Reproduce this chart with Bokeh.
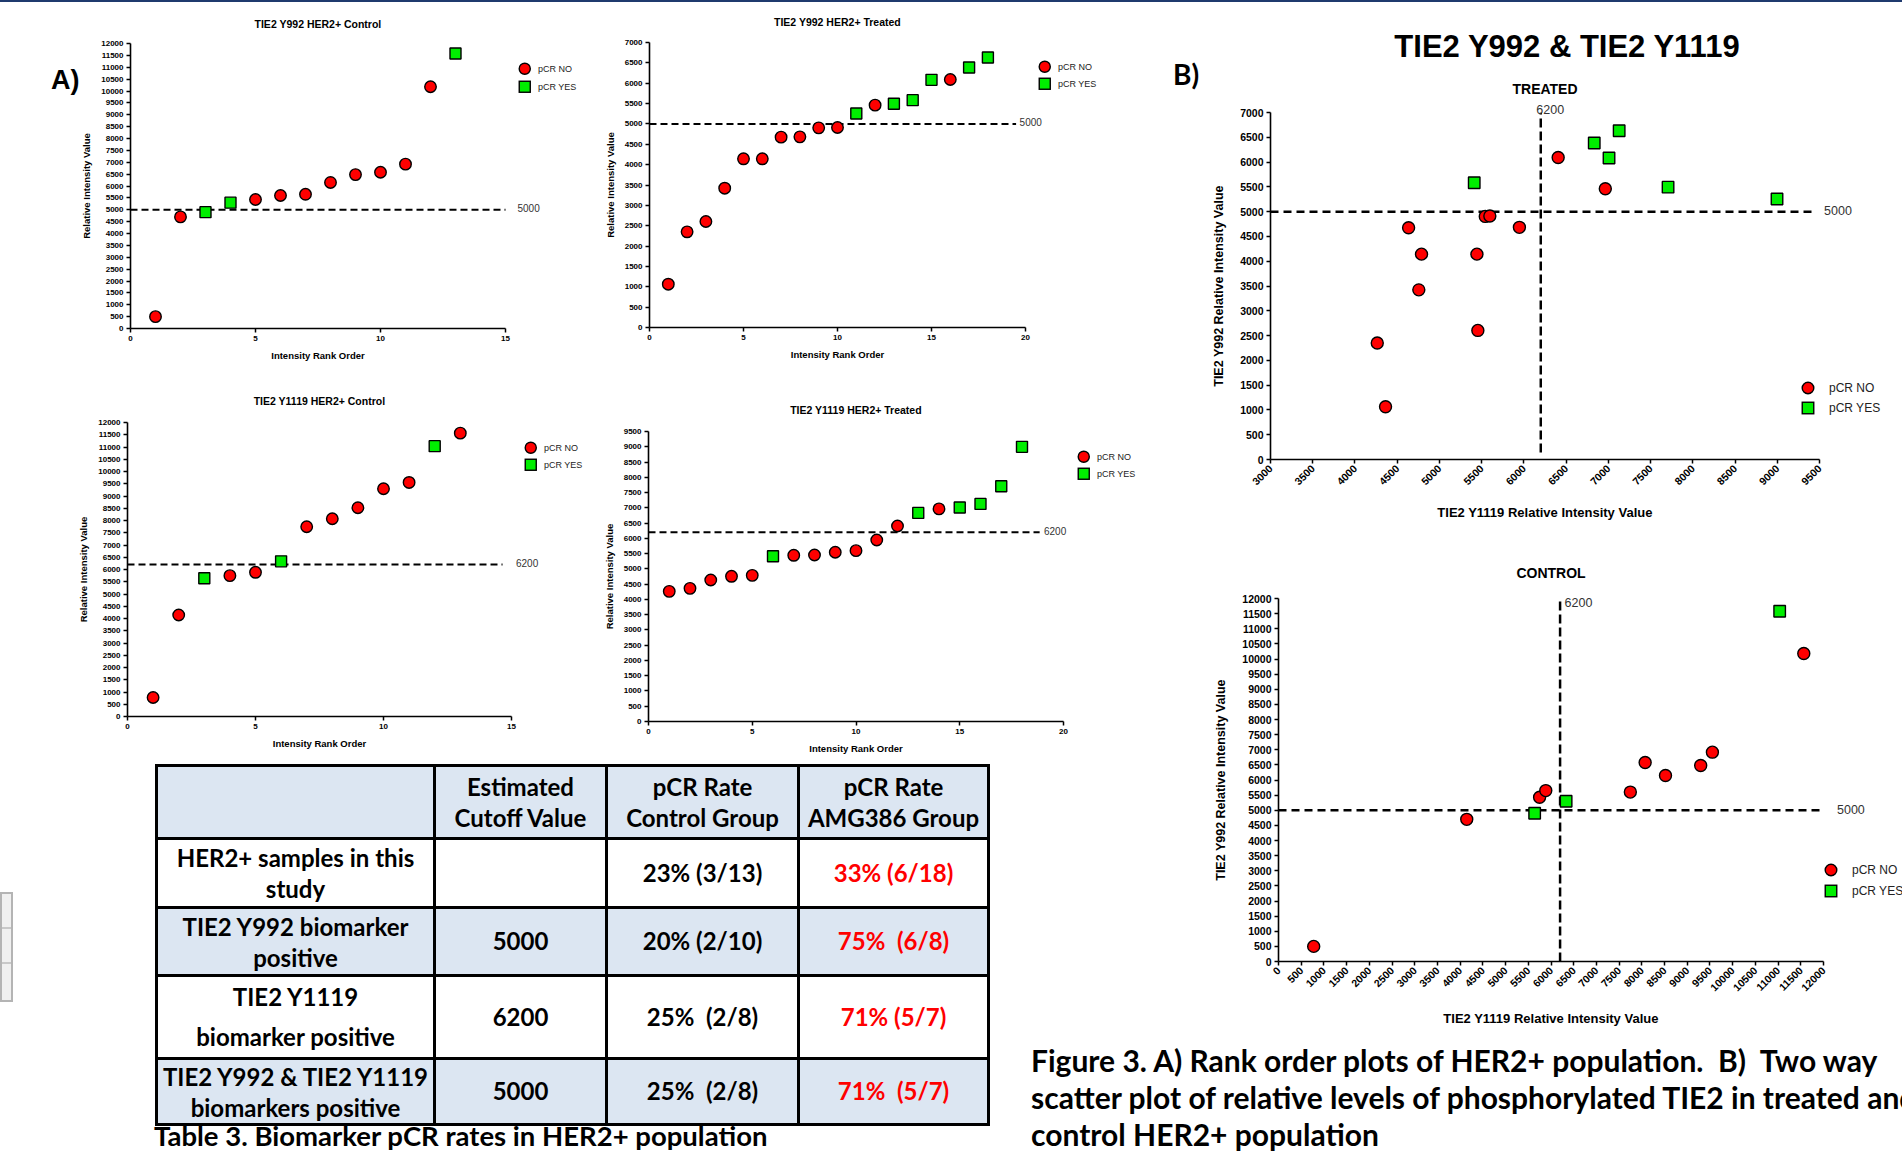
import math
from bokeh.plotting import figure
from bokeh.models import (ColumnDataSource, Range1d, SingleIntervalTicker,
                          NumeralTickFormatter, Div)
from bokeh.layouts import row, column
from bokeh.embed import file_html
from bokeh.resources import INLINE

# ---------------- data ----------------
# per-patient values (TIE2 Y1119, TIE2 Y992) and pCR outcome
control_y1119 = [775, 4145, 5640, 5749, 5885, 6333, 7747, 8073, 8521, 9296, 9554, 11035, 11566]
control_y992 = [500, 4700, 4900, 5430, 5650, 5300, 5600, 6580, 6150, 6480, 6920, 11580, 10180]
control_pcr = ["NO", "NO", "YES", "NO", "NO", "YES", "NO", "NO", "NO", "NO", "NO", "YES", "NO"]

treated_y1119 = [4264, 4362, 4635, 4756, 4788, 5412, 5444, 5455, 5543, 5597, 5947, 6406,
                 6833, 6964, 7008, 7128, 7707, 8997]
treated_y992 = [2350, 1064, 4675, 3422, 4143, 5584, 4143, 2604, 4904, 4912, 4683, 6092,
                6386, 5461, 6083, 6632, 5494, 5256]
treated_pcr = ["NO", "NO", "NO", "NO", "NO", "YES", "NO", "NO", "NO", "NO", "NO", "NO",
               "YES", "NO", "YES", "YES", "YES", "YES"]

cutoff_y992 = 5000
cutoff_y1119 = 6200
legend_labels = ["pCR NO", "pCR YES"]

rank_titles = ["TIE2 Y992 HER2+ Control", "TIE2 Y992 HER2+ Treated",
               "TIE2 Y1119 HER2+ Control", "TIE2 Y1119 HER2+ Treated"]
scatter_titles = ["TREATED", "CONTROL"]
main_title = "TIE2 Y992 & TIE2 Y1119"
panel_labels = ["A)", "B)"]

table_columns = ["", "Estimated\nCutoff Value", "pCR Rate\nControl Group", "pCR Rate\nAMG386 Group"]
table_groups = ["HER2+ samples in this\nstudy", "TIE2 Y992 biomarker\npositive",
                "TIE2 Y1119\nbiomarker positive", "TIE2 Y992 & TIE2 Y1119\nbiomarkers positive"]
table_cutoffs = ["", "5000", "6200", "5000"]
table_control = ["23% (3/13)", "20% (2/10)", "25%  (2/8)", "25%  (2/8)"]
table_amg386 = ["33% (6/18)", "75%  (6/8)", "71% (5/7)", "71%  (5/7)"]
table_caption = "Table 3. Biomarker pCR rates in HER2+ population"
figure_caption = ["Figure 3. A) Rank order plots of HER2+ population.  B)  Two way",
                  "scatter plot of relative levels of phosphorylated TIE2 in treated and",
                  "control HER2+ population"]

# ---------------- style ----------------
RED = "#FF0000"
GREEN = "#00EE00"
FONT = "Liberation Sans"
CAPFONT = "Lato"
LIGHTBLUE = "#DCE6F2"
NAVY = "#1F3A6E"


def esc(t):
    return t.replace("&", "&amp;").replace("  ", "&nbsp; ").replace("\n", "<br>")


class Geo:
    """canvas origin on the page, canvas size, min borders and data ranges"""
    def __init__(self, ox, oy, w, h, borders, xr, yr):
        self.ox, self.oy, self.w, self.h = ox, oy, w, h
        self.l, self.t, self.r, self.b = borders
        self.xr, self.yr = xr, yr
        self.fl, self.ft = ox + self.l, oy + self.t
        self.fw, self.fh = w - self.l - self.r, h - self.t - self.b
        self.fr = self.fl + self.fw

    def px(self, x):
        return self.fl + (x - self.xr[0]) / (self.xr[1] - self.xr[0]) * self.fw

    def py(self, y):
        return self.ft + (self.yr[1] - y) / (self.yr[1] - self.yr[0]) * self.fh


def new_fig(g):
    p = figure(width=g.w, height=g.h, x_range=Range1d(*g.xr), y_range=Range1d(*g.yr),
               output_backend="svg", toolbar_location=None,
               min_border_left=g.l, min_border_top=g.t, min_border_right=g.r, min_border_bottom=g.b)
    p.xgrid.grid_line_color = None
    p.ygrid.grid_line_color = None
    p.outline_line_color = None
    return p


def style_axis(ax, tick_px, label_px, label_standoff, interval, label):
    ax.ticker = SingleIntervalTicker(interval=interval, num_minor_ticks=0)
    ax.formatter = NumeralTickFormatter(format="0")
    ax.axis_line_width = 1.6
    ax.axis_line_color = "black"
    ax.major_tick_line_width = 1.5
    ax.major_tick_line_color = "black"
    ax.major_tick_out = 4
    ax.major_tick_in = 0
    ax.minor_tick_line_color = None
    ax.major_label_text_font = FONT
    ax.major_label_text_font_style = "bold"
    ax.major_label_text_font_size = f"{tick_px}px"
    ax.major_label_text_color = "black"
    ax.major_label_standoff = 3
    ax.axis_label = label
    ax.axis_label_text_font = FONT
    ax.axis_label_text_font_style = "bold"
    ax.axis_label_text_font_size = f"{label_px}px"
    ax.axis_label_text_color = "black"
    ax.axis_label_standoff = label_standoff


def style_title(p, text, px, gap):
    """gap: distance from the title's vertical centre up from the frame top"""
    p.title.text = text
    p.title.align = "center"
    p.title.vertical_align = "top"
    p.title.text_font = FONT
    p.title.text_font_style = "bold"
    p.title.text_font_size = f"{px}px"
    p.title.text_color = "black"
    p.title.standoff = max(0, 2 * (gap - 2 - 0.56 * px))


def add_points(p, xs, ys, pcr, size):
    no = ColumnDataSource(dict(x=[x for x, s in zip(xs, pcr) if s == "NO"],
                               y=[y for y, s in zip(ys, pcr) if s == "NO"]))
    yes = ColumnDataSource(dict(x=[x for x, s in zip(xs, pcr) if s == "YES"],
                                y=[y for y, s in zip(ys, pcr) if s == "YES"]))
    p.scatter("x", "y", source=no, marker="circle", size=size, fill_color=RED,
              line_color="black", line_width=1.4)
    p.scatter("x", "y", source=yes, marker="square", size=size - 0.5, fill_color=GREEN,
              line_color="black", line_width=1.4)


overlays_left = []   # html placed over the left column (coordinates relative to its table div)
overlays_right = []  # html placed over the right column (relative to its caption div)
LEFT_DIV_ORIGIN = (0, 760)
RIGHT_DIV_ORIGIN = (1160, 1036)


def text_box(left, cy, text, px, weight=400, family=FONT, color="#333333", align="left", width=None):
    lh = round(px * 1.25)
    w = f" width:{width}px;" if width else ""
    return (f'<div style="position:absolute; left:{left:.1f}px; top:{cy - lh / 2:.1f}px;{w} '
            f'font-family:{family}; font-size:{px}px; font-weight:{weight}; line-height:{lh}px; '
            f'color:{color}; white-space:nowrap; text-align:{align};">{esc(text)}</div>')


def legend_html(origin, mx, my, gap, size, font_px, text_dx):
    ox, oy = origin
    out = []
    for k, lab in enumerate(legend_labels):
        cx, cy = mx - ox, my + k * gap - oy
        box = size + 4
        c = box / 2
        if k == 0:
            shape = (f'<circle cx="{c}" cy="{c}" r="{size / 2 - 0.2}" fill="{RED}" '
                     f'stroke="black" stroke-width="1.4"/>')
        else:
            s = size - 0.5
            shape = (f'<rect x="{c - s / 2}" y="{c - s / 2}" width="{s}" height="{s}" fill="{GREEN}" '
                     f'stroke="black" stroke-width="1.4"/>')
        out.append(f'<svg style="position:absolute; left:{cx - c:.1f}px; top:{cy - c:.1f}px;" '
                   f'width="{box}" height="{box}">{shape}</svg>')
        out.append(text_box(cx + text_dx, cy, lab, font_px, color="#222222"))
    return "".join(out)


def rank_plot(vals, pcr, title, g, title_gap, line_end, label_dx, leg):
    order = sorted(range(len(vals)), key=lambda i: vals[i])
    ranks = list(range(1, len(vals) + 1))
    ys = [vals[i] for i in order]
    ps = [pcr[i] for i in order]
    p = new_fig(g)
    style_title(p, title, 10.5, title_gap)
    style_axis(p.xaxis[0], 8, 9.5, 6, 5, "Intensity Rank Order")
    style_axis(p.yaxis[0], 8, 9.5, 6, 500, "Relative Intensity Value")
    cutoff = cutoff_y992 if "Y992" in title else cutoff_y1119
    p.segment(x0=[0], y0=[cutoff], x1=[line_end], y1=[cutoff], line_color="black",
              line_width=2, line_dash="7 4")
    add_points(p, ranks, ys, ps, 11.5)
    ox, oy = LEFT_DIV_ORIGIN
    overlays_left.append(text_box(g.px(line_end) + label_dx - ox, g.py(cutoff) - oy,
                                  str(cutoff), 10))
    dx, dy, gap = leg
    overlays_left.append(legend_html(LEFT_DIV_ORIGIN, g.fr + dx, g.ft + dy, gap, 11.5, 9, 13))
    return p


# ---------------- A) rank order plots ----------------
gA1 = Geo(0, 0, 600, 380, (130, 43, 95, 52), (0, 15), (0, 12000))
gA2 = Geo(600, 0, 560, 380, (49, 42, 135, 53), (0, 20), (0, 7000))
gA3 = Geo(0, 380, 600, 380, (127, 42, 89, 44), (0, 15), (0, 12000))
gA4 = Geo(600, 380, 560, 380, (46, 51, 97, 39), (0, 20), (0, 9500))

a1 = rank_plot(control_y992, control_pcr, rank_titles[0], gA1, 20, 15.1, 10, (20, 26, 18))
a2 = rank_plot(treated_y992, treated_pcr, rank_titles[1], gA2, 21, 19.5, 4, (20, 25, 17))
a3 = rank_plot(control_y1119, control_pcr, rank_titles[2], gA3, 22, 14.65, 14, (20, 26, 17))
a4 = rank_plot(treated_y1119, treated_pcr, rank_titles[3], gA4, 22, 18.85, 5, (21, 26, 17))
overlays_left.append(text_box(gA1.fl - 79 - LEFT_DIV_ORIGIN[0], gA1.ft + 37 - LEFT_DIV_ORIGIN[1],
                              panel_labels[0], 27, weight=700, color="black"))


# ---------------- B) two way scatter plots ----------------
def scatter_plot(xs, ys, pcr, title, g, title_gap, h_end, h_dx, v_start, v_dx, v_dy, leg):
    p = new_fig(g)
    style_title(p, title, 14, title_gap)
    style_axis(p.xaxis[0], 10.5, 13, 13, 500, "TIE2 Y1119 Relative Intensity Value")
    style_axis(p.yaxis[0], 10.5, 12.5, 11, 500, "TIE2 Y992 Relative Intensity Value")
    p.xaxis[0].major_label_orientation = math.pi / 4
    p.segment(x0=[g.xr[0]], y0=[cutoff_y992], x1=[h_end], y1=[cutoff_y992], line_color="black",
              line_width=2.5, line_dash="8 5")
    p.segment(x0=[cutoff_y1119], y0=[v_start], x1=[cutoff_y1119], y1=[g.yr[1]], line_color="black",
              line_width=2.5, line_dash="9 4")
    add_points(p, xs, ys, pcr, 12)
    ox, oy = RIGHT_DIV_ORIGIN
    overlays_right.append(text_box(g.px(h_end) + h_dx - ox, g.py(cutoff_y992) - oy,
                                   str(cutoff_y992), 12.5))
    overlays_right.append(text_box(g.px(cutoff_y1119) + v_dx - ox, g.py(g.yr[1]) + v_dy - oy,
                                   str(cutoff_y1119), 12.5))
    dx, dy, gap = leg
    overlays_right.append(legend_html(RIGHT_DIV_ORIGIN, g.fr + dx, g.ft + dy, gap, 12, 12, 21))
    return p


gBT = Geo(1160, 0, 742, 535, (110, 112, 83, 76), (3000, 9500), (0, 7000))
gBC = Geo(1160, 535, 742, 501, (118, 63, 79, 75), (0, 12000), (0, 12000))

bt = scatter_plot(treated_y1119, treated_y992, treated_pcr, scatter_titles[0], gBT, 24,
                  9430, 11, 140, -4, -2, (-11, 276, 20))
bc = scatter_plot(control_y1119, control_y992, control_pcr, scatter_titles[1], gBC, 26,
                  12154, 7, 0, 5, 5, (8, 272, 21))

rx, ry = RIGHT_DIV_ORIGIN
overlays_right.append(text_box(gBT.fl + 297 - 400 - rx, gBT.ft - 66 - ry, main_title, 31,
                               weight=700, color="black", align="center", width=800))
overlays_right.append(text_box(gBT.fl - 97 - rx, gBT.ft - 38 - ry, panel_labels[1], 28,
                               weight=700, family=CAPFONT, color="black"))

# ---------------- table and captions ----------------
row_heights = [73, 69, 68, 81, 66]
col_widths = [278, 172, 192, 190]
row_bgs = [LIGHTBLUE, "white", LIGHTBLUE, "white", LIGHTBLUE]

cell_css = "border:3px solid black; text-align:center; vertical-align:middle; padding:0;"
html_rows = []
hdr = "".join(f'<td style="{cell_css} line-height:31px;">{esc(c)}</td>' for c in table_columns)
html_rows.append(f'<tr style="height:{row_heights[0]}px; background:{row_bgs[0]};">{hdr}</tr>')
for i in range(len(table_groups)):
    lh = 40 if i == 2 else 31
    cells = (f'<td style="{cell_css} line-height:{lh}px;">{esc(table_groups[i])}</td>'
             f'<td style="{cell_css}">{esc(table_cutoffs[i])}</td>'
             f'<td style="{cell_css}">{esc(table_control[i])}</td>'
             f'<td style="{cell_css} color:{RED};">{esc(table_amg386[i])}</td>')
    html_rows.append(f'<tr style="height:{row_heights[i + 1]}px; background:{row_bgs[i + 1]};">{cells}</tr>')
cols = "".join(f'<col style="width:{w}px">' for w in col_widths)

LH = 391
table_html = (
    f'<div style="position:relative; width:1160px; height:{LH}px;">'
    f'<table style="position:absolute; left:155px; top:4px; width:{sum(col_widths)}px; '
    f'border-collapse:collapse; table-layout:fixed; font-family:{CAPFONT}; font-weight:700; '
    f'font-size:24px; color:black;">{cols}{"".join(html_rows)}</table>'
    f'<div style="position:absolute; left:154px; top:361px; font-family:{CAPFONT}; font-weight:700; '
    f'font-size:27.5px; line-height:30px; white-space:nowrap; color:black;">{esc(table_caption)}</div>'
    '<div style="position:absolute; left:0px; top:132px; width:13px; height:110px; '
    'border:2px solid #b4b4b4; background:#f0f0f0;">'
    '<div style="height:35px; border-bottom:2px solid #c8c8c8;"></div>'
    '<div style="height:35px; border-bottom:2px solid #c8c8c8;"></div></div>'
    f'<div style="position:absolute; left:0px; top:-760px; width:1160px; height:2px; background:{NAVY};"></div>'
    + "".join(overlays_left) +
    '</div>')
table_div = Div(text=table_html, width=1160, height=LH, margin=0, styles={"overflow": "visible"})

RH = 115
cap_html = (
    f'<div style="position:relative; width:742px; height:{RH}px;">'
    f'<div style="position:absolute; left:-129px; top:0px; width:871px; height:{RH}px; overflow:hidden;">'
    f'<div style="position:absolute; left:0px; top:6px; font-family:{CAPFONT}; font-weight:700; '
    f'font-size:30px; line-height:37px; white-space:nowrap; color:black;">'
    + "<br>".join(esc(t) for t in figure_caption) + '</div></div>'
    f'<div style="position:absolute; left:0px; top:-1036px; width:742px; height:2px; background:{NAVY};"></div>'
    + "".join(overlays_right) +
    '</div>')
cap_div = Div(text=cap_html, width=742, height=RH, margin=0, styles={"overflow": "visible"})

# each figure sits in its own column so that frames of neighbouring plots are not aligned
left = column(row(column(a1), column(a2)), row(column(a3), column(a4)), table_div)
right = column(row(bt), row(bc), cap_div)
layout = row(left, right)

open("out.html", "w").write(file_html(layout, INLINE, title="TIE2 biomarker figure"))
